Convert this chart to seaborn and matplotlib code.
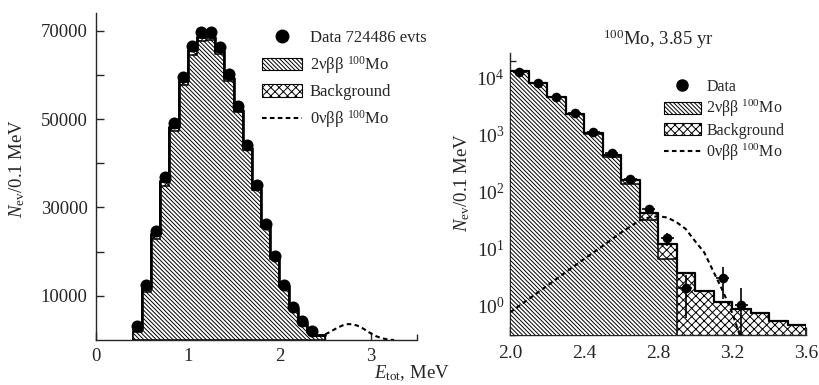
import numpy as np
import matplotlib
matplotlib.use("Agg")
import matplotlib.pyplot as plt
import seaborn as sns
from matplotlib.patches import Patch
from matplotlib.lines import Line2D
from matplotlib.ticker import FixedLocator, LogLocator, LogFormatterMathtext, NullFormatter

# ---------------- data: left panel (linear) ----------------
left_centers = [0.45, 0.55, 0.65, 0.75, 0.85, 0.95, 1.05, 1.15, 1.25, 1.35,
                1.45, 1.55, 1.65, 1.75, 1.85, 1.95, 2.05, 2.15, 2.25, 2.35]
left_data = [3200, 12400, 24600, 36900, 49200, 59500, 66600, 69600, 69600, 66400,
             60200, 53000, 44100, 35000, 26300, 18900, 12400, 7500, 4300, 2000]
left_mc_centers = [0.45, 0.55, 0.65, 0.75, 0.85, 0.95, 1.05, 1.15, 1.25, 1.35,
                   1.45, 1.55, 1.65, 1.75, 1.85, 1.95, 2.05, 2.15, 2.25, 2.35, 2.45]
left_2nu = [1900, 10800, 22800, 34900, 47200, 57600, 64600, 67700, 67800, 64800,
            58700, 51700, 43000, 34000, 25500, 18300, 12000, 7200, 4100, 1850, 1000]
left_bkg = [600, 1000, 1100, 1100, 1050, 1000, 950, 850, 750, 650,
            550, 450, 350, 280, 220, 170, 130, 100, 80, 60, 50]
left_0nu_x = [2.5, 2.55, 2.6, 2.65, 2.7, 2.75, 2.8, 2.85, 2.9, 2.95,
              3.0, 3.05, 3.1, 3.15, 3.2, 3.25]
left_0nu_y = [1300, 1800, 2400, 2950, 3400, 3600, 3550, 3250, 2750, 2100,
              1450, 900, 500, 250, 60, 0]

# ---------------- data: right panel (log) ----------------
right_centers = [2.05, 2.15, 2.25, 2.35, 2.45, 2.55, 2.65, 2.75, 2.85, 2.95, 3.15, 3.25]
right_data = [12900, 8270, 4590, 2460, 1140, 478, 167, 50, 15, 2, 3, 1]
right_2nu_centers = [2.05, 2.15, 2.25, 2.35, 2.45, 2.55, 2.65, 2.75, 2.85, 2.95]
right_2nu = [13000, 8200, 4600, 2300, 1020, 415, 135, 32, 6.4, 0.28]
right_bkg_centers = [2.05, 2.15, 2.25, 2.35, 2.45, 2.55, 2.65, 2.75, 2.85, 2.95,
                     3.05, 3.15, 3.25, 3.35, 3.45, 3.55]
right_bkg = [60, 50, 45, 40, 35, 30, 27, 10, 5.4, 3.4,
             1.8, 1.16, 0.85, 0.72, 0.53, 0.45]
right_0nu_x = [2.0, 2.1, 2.2, 2.3, 2.4, 2.5, 2.6, 2.7, 2.75, 2.8, 2.85, 2.9,
               2.95, 3.0, 3.05, 3.1, 3.15, 3.2, 3.25]
right_0nu_y = [0.75, 1.28, 2.2, 3.8, 6.5, 11, 19, 31, 35, 37, 35, 29,
               22, 13.5, 8.5, 3.9, 1.8, 0.75, 0.25]

# ---------------- style ----------------
sns.set_style("ticks")
plt.rcParams["font.family"] = ["Liberation Serif", "DejaVu Serif"]
plt.rcParams["mathtext.fontset"] = "custom"
plt.rcParams["mathtext.rm"] = "Liberation Serif"
plt.rcParams["mathtext.it"] = "Liberation Serif:italic"
plt.rcParams["hatch.linewidth"] = 0.7
plt.rcParams["axes.linewidth"] = 1.0

H2 = "\\" * 8     # dense diagonal hatch
HX = "xxxx"       # cross hatch
DASH = (0, (2.2, 1.6))

fig = plt.figure(figsize=(8.19, 3.85), dpi=100)
axL = fig.add_axes([96 / 819, 45 / 385, 321 / 819, 327 / 385])
axR = fig.add_axes([510 / 819, 50 / 385, 296 / 819, 282 / 385])


def edges_from(centers):
    c = np.asarray(centers, dtype=float)
    return np.round(np.append(c - 0.05, c[-1] + 0.05), 3).tolist()


def stacked_hist(ax, c2, v2, cb, vb, outline_lw, lw=1.1):
    c2a = np.asarray(c2); cba = np.asarray(cb)
    tot = np.array(vb, dtype=float)
    idx = [int(np.argmin(np.abs(cba - c))) for c in c2a]
    tot[idx] += np.asarray(v2, dtype=float)
    # background on top (drawn as full stack, crosshatched)
    sns.histplot(x=list(cb), weights=tot.tolist(), bins=edges_from(cb), element="step",
                 fill=True, facecolor="white", edgecolor="black", linewidth=lw,
                 hatch=HX, alpha=1, ax=ax, zorder=2)
    # 2nu component (covers lower part)
    sns.histplot(x=list(c2), weights=list(v2), bins=edges_from(c2), element="step",
                 fill=True, facecolor="white", edgecolor="black", linewidth=lw,
                 hatch=H2, alpha=1, ax=ax, zorder=3)
    # thick outline of total
    sns.histplot(x=list(cb), weights=tot.tolist(), bins=edges_from(cb), element="step",
                 fill=False, color="black", linewidth=outline_lw, ax=ax, zorder=4)


# ---------------- left panel ----------------
stacked_hist(axL, left_mc_centers, left_2nu, left_mc_centers, left_bkg, outline_lw=1.9)
sns.lineplot(x=left_0nu_x, y=left_0nu_y, ax=axL, color="black", linestyle=DASH,
             linewidth=1.5, zorder=5)
sns.scatterplot(x=left_centers, y=left_data, ax=axL, color="black", s=75,
                linewidth=0, zorder=6)
axL.set_xlim(0, 3.5)
axL.set_ylim(0, 74000)
axL.xaxis.set_major_locator(FixedLocator([0, 1, 2, 3]))
axL.xaxis.set_minor_locator(FixedLocator([0.5, 1.5, 2.5, 3.5]))
axL.yaxis.set_major_locator(FixedLocator([10000, 30000, 50000, 70000]))
axL.yaxis.set_minor_locator(FixedLocator([20000, 40000, 60000]))
axL.set_xticklabels(["0", "1", "2", "3"])
axL.set_yticklabels(["10000", "30000", "50000", "70000"])
axL.tick_params(which="both", direction="in", labelsize=13.5, width=1.0)
axL.tick_params(which="major", length=6, pad=6)
axL.tick_params(axis="y", which="minor", length=6)
axL.tick_params(axis="x", which="minor", length=4)
axL.set_xlabel("")
axL.set_ylabel(r"$N_{\mathrm{ev}}$/0.1 MeV", fontsize=13.5)
axL.yaxis.set_label_coords(-0.215, 0.525)
sns.despine(ax=axL)

legL = [
    Line2D([], [], marker="o", color="black", linestyle="none", markersize=9),
    Patch(facecolor="white", edgecolor="black", hatch=H2, linewidth=0.8),
    Patch(facecolor="white", edgecolor="black", hatch=HX, linewidth=0.8),
    Line2D([], [], color="black", linestyle=DASH, linewidth=1.5),
]
labL = ["Data 724486 evts", r"2νββ $^{100}$Mo", "Background", r"0νββ $^{100}$Mo"]
axL.legend(legL, labL, loc="upper left", bbox_to_anchor=(262 / 819, 1 - 30 / 385),
           bbox_transform=fig.transFigure, frameon=False, fontsize=12,
           handlelength=2.4, handleheight=0.8, handletextpad=0.45,
           labelspacing=0.48, borderpad=0, borderaxespad=0)

# ---------------- right panel ----------------
axR.set_yscale("log")
stacked_hist(axR, right_2nu_centers, right_2nu, right_bkg_centers, right_bkg, outline_lw=1.6)
sns.lineplot(x=right_0nu_x, y=right_0nu_y, ax=axR, color="black", linestyle=DASH,
             linewidth=1.5, zorder=5)
rc = np.asarray(right_centers)
rd = np.asarray(right_data, dtype=float)
axR.errorbar(rc, rd, yerr=np.sqrt(rd), xerr=0.035, fmt="none", ecolor="black",
             elinewidth=1.2, capsize=0, zorder=6)
sns.scatterplot(x=right_centers, y=right_data, ax=axR, color="black", s=48,
                linewidth=0, zorder=7)
axR.set_xlim(2.0, 3.6)
axR.set_ylim(0.3, 27500)
axR.xaxis.set_major_locator(FixedLocator([2.0, 2.4, 2.8, 3.2, 3.6]))
axR.xaxis.set_minor_locator(FixedLocator([2.2, 2.6, 3.0, 3.4]))
axR.set_xticklabels(["2.0", "2.4", "2.8", "3.2", "3.6"])
axR.yaxis.set_major_locator(LogLocator(base=10, numticks=10))
axR.yaxis.set_major_formatter(LogFormatterMathtext())
axR.yaxis.set_minor_locator(LogLocator(base=10, subs=np.arange(2, 10), numticks=20))
axR.yaxis.set_minor_formatter(NullFormatter())
axR.tick_params(which="both", direction="in", labelsize=14, width=1.0)
axR.tick_params(which="major", length=6)
axR.tick_params(axis="y", which="major", pad=4)
axR.tick_params(axis="x", which="major", pad=7)
axR.tick_params(which="minor", length=4)
axR.set_xlabel("")
axR.set_ylabel(r"$N_{\mathrm{ev}}$/0.1 MeV", fontsize=13.5)
axR.yaxis.set_label_coords(-0.128, 0.54)
axR.set_title(r"$^{100}$Mo, 3.85 yr", fontsize=13.5, pad=6)
sns.despine(ax=axR)

legR = [
    Line2D([], [], marker="o", color="black", linestyle="none", markersize=8),
    Patch(facecolor="white", edgecolor="black", hatch=H2, linewidth=0.8),
    Patch(facecolor="white", edgecolor="black", hatch=HX, linewidth=0.8),
    Line2D([], [], color="black", linestyle=DASH, linewidth=1.5),
]
labR = ["Data", r"2νββ $^{100}$Mo", "Background", r"0νββ $^{100}$Mo"]
axR.legend(legR, labR, loc="upper left", bbox_to_anchor=(664 / 819, 1 - 79 / 385),
           bbox_transform=fig.transFigure, frameon=False, fontsize=11.5,
           handlelength=2.3, handleheight=0.8, handletextpad=0.35,
           labelspacing=0.2, borderpad=0, borderaxespad=0)

fig.text(412 / 819, 1 - 373 / 385, r"$E_{\mathrm{tot}}$, MeV", ha="center", va="center",
         fontsize=13.5)

fig.savefig("out.png", dpi=100)
